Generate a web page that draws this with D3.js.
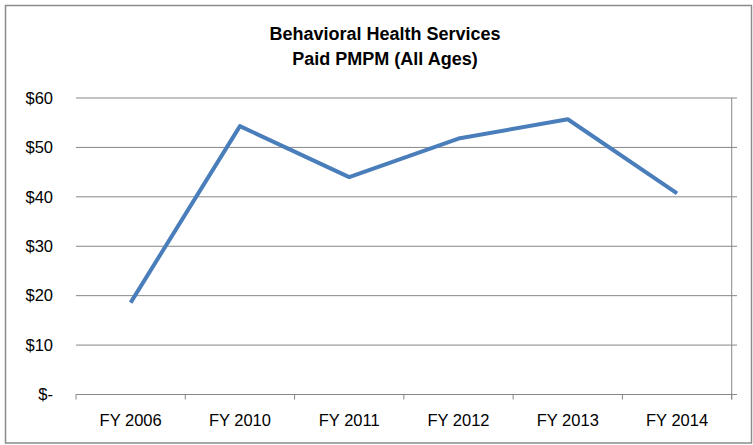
<!DOCTYPE html>
<html><head><meta charset="utf-8">
<script src="https://cdn.jsdelivr.net/npm/d3@7"></script>
<style>body{margin:0;background:#fff}svg{display:block}</style>
</head><body>
<svg id="c" width="753" height="445"></svg>
<script>
const categories = ["FY 2006","FY 2010","FY 2011","FY 2012","FY 2013","FY 2014"];
const values = [18.6, 54.3, 44.0, 51.8, 55.7, 40.7];
const yTicks = [0,10,20,30,40,50,60];
const titleLines = ["Behavioral Health Services","Paid PMPM (All Ages)"];

const svg = d3.select("#c");
const font = "'Liberation Sans', Arial, sans-serif";
const L = 76, R = 731.7, T = 98, B = 394.5;

svg.append("rect").attr("x",5.5).attr("y",5.5).attr("width",746).attr("height",437.5)
  .attr("fill","#fff").attr("stroke","#8c8c8c").attr("stroke-width",1.5);

const x = d3.scaleBand().domain(categories).range([L,R]).padding(0);
const y = d3.scaleLinear().domain([0,60]).range([B,T]);

// gridlines
svg.append("g").selectAll("line").data(yTicks.filter(d=>d>0)).join("line")
  .attr("x1",L).attr("x2",737).attr("y1",d=>y(d)).attr("y2",d=>y(d))
  .attr("stroke","#878787").attr("stroke-width",1);

// right vertical line
svg.append("line").attr("x1",R).attr("x2",R).attr("y1",T).attr("y2",B+5)
  .attr("stroke","#878787").attr("stroke-width",1);

// x axis
const xAxis = d3.axisBottom(x).tickSize(0).tickPadding(0);
const gx = svg.append("g").attr("transform",`translate(0,${B})`).call(xAxis);
gx.select(".domain").remove();
gx.append("line").attr("x1",L).attr("x2",737).attr("y1",0).attr("y2",0).attr("stroke","#878787");
gx.selectAll(".bound").data(categories.concat(["end"])).join("line").attr("class","bound")
  .attr("x1",(d,i)=>L+i*x.bandwidth()).attr("x2",(d,i)=>L+i*x.bandwidth())
  .attr("y1",0).attr("y2",5).attr("stroke","#878787");
gx.selectAll(".tick text").attr("y",31.5).attr("dy",null)
  .attr("font-family",font).attr("font-size",16.5).attr("fill","#000");

// y axis labels
const yAxis = d3.axisLeft(y).tickValues(yTicks).tickSize(0).tickPadding(23)
  .tickFormat(d=> d===0 ? "$-" : "$"+d);
const gy = svg.append("g").attr("transform",`translate(${L},0)`).call(yAxis);
gy.select(".domain").remove();
gy.selectAll("text").attr("font-family",font).attr("font-size",16.5).attr("fill","#000");

// line
const line = d3.line().x((d,i)=>x(categories[i])+x.bandwidth()/2).y(d=>y(d));
svg.append("path").datum(values).attr("d",line).attr("fill","none")
  .attr("stroke","#4a7ebb").attr("stroke-width",4).attr("stroke-linejoin","round");

// title
svg.append("g").selectAll("text").data(titleLines).join("text")
  .attr("x",385).attr("y",(d,i)=>40+i*25).attr("text-anchor","middle")
  .attr("font-family",font).attr("font-weight","bold").attr("font-size",18).attr("fill","#000")
  .text(d=>d);
</script>
</body></html>
